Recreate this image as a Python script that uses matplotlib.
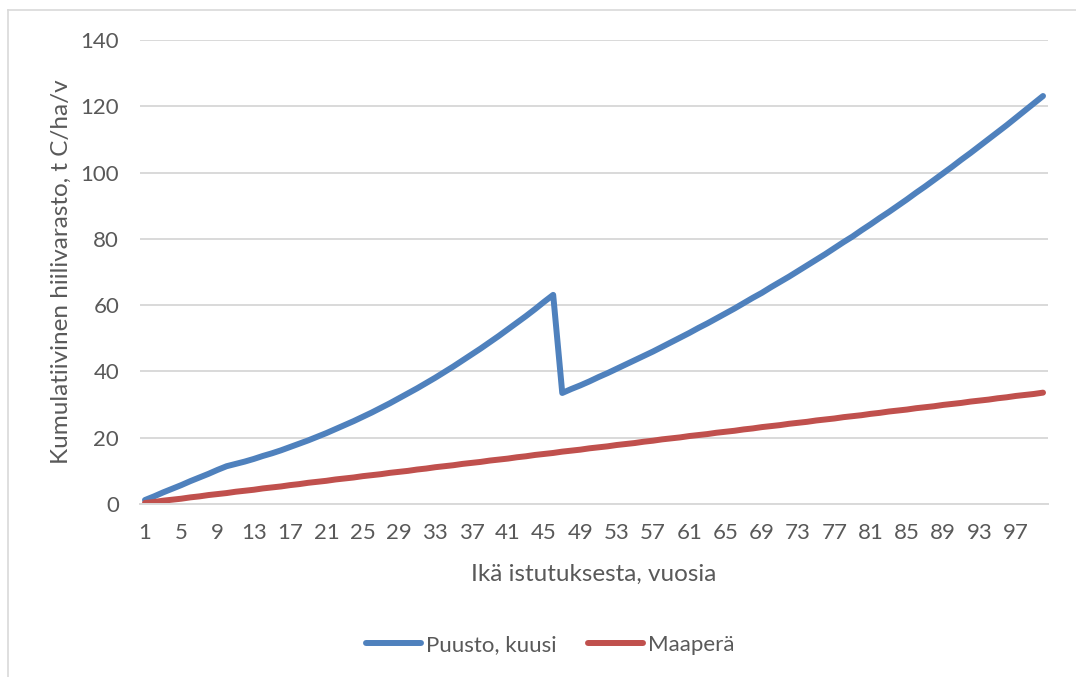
import matplotlib
matplotlib.use("Agg")
import matplotlib.pyplot as plt
from matplotlib.lines import Line2D

plt.rcParams['font.family'] = ['Lato', 'DejaVu Sans']

# age since planting, years
ika = list(range(1, 101))

# tree stand (spruce), t C/ha
puusto = [1.2, 2.3, 3.5, 4.6, 5.7, 6.9, 8.0, 9.1, 10.3, 11.4,
          12.1, 12.8, 13.6, 14.5, 15.3, 16.2, 17.2, 18.2, 19.2, 20.3,
          21.4, 22.6, 23.8, 25.0, 26.3, 27.6, 29.0, 30.4, 31.9, 33.4,
          34.9, 36.5, 38.1, 39.8, 41.5, 43.3, 45.1, 46.9, 48.8, 50.7,
          52.7, 54.7, 56.7, 58.8, 61.0, 63.1, 33.5, 34.7, 35.8, 37.0,
          38.3, 39.5, 40.8, 42.1, 43.4, 44.7, 46.0, 47.4, 48.8, 50.2,
          51.6, 53.1, 54.5, 56.0, 57.5, 59.0, 60.6, 62.2, 63.7, 65.4,
          67.0, 68.6, 70.3, 72.0, 73.7, 75.4, 77.2, 79.0, 80.7, 82.6,
          84.4, 86.3, 88.1, 90.0, 91.9, 93.9, 95.8, 97.8, 99.8, 101.8,
          103.9, 105.9, 108.0, 110.1, 112.2, 114.3, 116.5, 118.7, 120.9, 123.1]

# soil, t C/ha
maapera = [0.3, 0.6, 1.0, 1.3, 1.6, 2.0, 2.3, 2.7, 3.0, 3.3,
           3.7, 4.0, 4.3, 4.7, 5.0, 5.3, 5.7, 6.0, 6.4, 6.7,
           7.0, 7.4, 7.7, 8.0, 8.4, 8.7, 9.0, 9.4, 9.7, 10.0,
           10.4, 10.7, 11.1, 11.4, 11.7, 12.1, 12.4, 12.7, 13.1, 13.4,
           13.7, 14.1, 14.4, 14.8, 15.1, 15.4, 15.8, 16.1, 16.4, 16.8,
           17.1, 17.4, 17.8, 18.1, 18.4, 18.8, 19.1, 19.5, 19.8, 20.1,
           20.5, 20.8, 21.1, 21.5, 21.8, 22.1, 22.5, 22.8, 23.2, 23.5,
           23.8, 24.2, 24.5, 24.8, 25.2, 25.5, 25.8, 26.2, 26.5, 26.8,
           27.2, 27.5, 27.9, 28.2, 28.5, 28.9, 29.2, 29.5, 29.9, 30.2,
           30.5, 30.9, 31.2, 31.5, 31.9, 32.2, 32.6, 32.9, 33.2, 33.6]

xticks = ika[::4]
yticks = [0, 20, 40, 60, 80, 100, 120, 140]

grey = '#595959'
fig = plt.figure(figsize=(10.76, 6.77), dpi=100)
ax = fig.add_axes([140/1076, 1-504/677, 908/1076, 464/677])

ax.plot(ika, puusto, color='#4F81BD', lw=4.3, solid_capstyle='round', solid_joinstyle='round', label='Puusto, kuusi')
ax.plot(ika, maapera, color='#C0504D', lw=4.3, solid_capstyle='round', solid_joinstyle='round', label='Maaperä')

ax.set_xlim(0.45, 100.55)
ax.set_ylim(0, 140)
ax.set_yticks(yticks)
ax.set_xticks(xticks)
ax.grid(axis='y', color='#d9d9d9', lw=1.4)
ax.set_axisbelow(True)
for s in ['top', 'right', 'left']:
    ax.spines[s].set_visible(False)
ax.spines['bottom'].set_color('#d9d9d9')
ax.spines['bottom'].set_linewidth(1.4)
ax.tick_params(length=0, labelsize=16, labelcolor=grey)
ax.tick_params(axis='y', pad=15)
ax.tick_params(axis='x', pad=14)

ax.set_ylabel('Kumulatiivinen hiilivarasto, t C/ha/v', fontsize=17.5, color=grey, labelpad=6)
ax.set_xlabel('Ikä istutuksesta, vuosia', fontsize=17.5, color=grey, labelpad=15)

fig.legend(loc='center', bbox_to_anchor=(550/1076, 1-645/677), ncol=2, frameon=False,
           fontsize=16, labelcolor=grey, handlelength=2.5, handletextpad=0.2, columnspacing=1.4)

# chart area border
fig.add_artist(Line2D([8/1076, 8/1076], [0, 1-10/677], color='#d9d9d9', lw=1.2))
fig.add_artist(Line2D([8/1076, 1], [1-10/677, 1-10/677], color='#d9d9d9', lw=1.2))

fig.savefig('out.png', dpi=100)
